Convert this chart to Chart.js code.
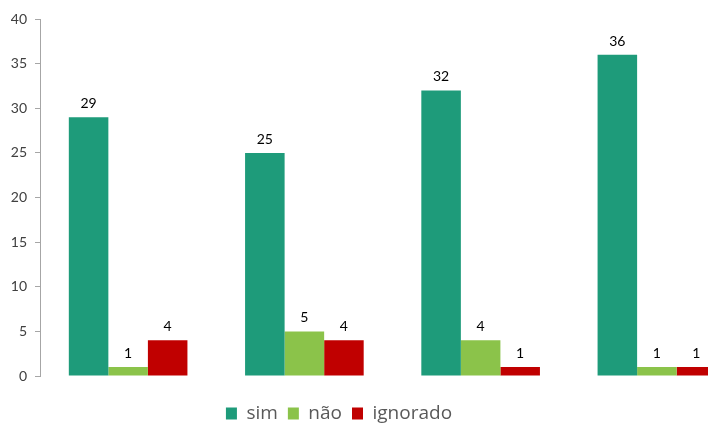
<!DOCTYPE html>
<html>
<head>
<meta charset="utf-8">
<script src="https://cdn.jsdelivr.net/npm/chart.js@4/dist/chart.umd.min.js"></script>
<style>
  html, body { margin: 0; padding: 0; background: #fff; overflow: hidden; }
  #wrap { position: relative; width: 708px; height: 429px; }
</style>
</head>
<body>
<div id="wrap"><canvas id="chart"></canvas></div>
<script>
// grupos (sem rótulo no eixo x)
const groups = [0, 1, 2, 3];
const seriesNames = ["sim", "não", "ignorado"];
const simValues = [29, 25, 32, 36];
const naoValues = [1, 5, 4, 1];
const ignoradoValues = [4, 4, 1, 1];
const yTicks = [0, 5, 10, 15, 20, 25, 30, 35, 40];

const colors = ["#1e9b7a", "#8bc34a", "#c00000"];

function toPoints(values) {
    return groups.map((g, i) => ({ x: g, y: values[i] }));
}

// rótulos de valor acima das barras
const valueLabels = {
    id: "valueLabels",
    afterDatasetsDraw(chart) {
        const ctx = chart.ctx;
        ctx.save();
        ctx.font = "14px Lato";
        ctx.fillStyle = "#000";
        ctx.textAlign = "center";
        ctx.textBaseline = "alphabetic";
        chart.data.datasets.forEach((ds, di) => {
            chart.getDatasetMeta(di).data.forEach((bar, i) => {
                ctx.fillText(ds.data[i].y, bar.x, bar.y - 9);
            });
        });
        ctx.restore();
    }
};

// legenda um pouco à esquerda e abaixo, como no original
const legendShift = {
    id: "legendShift",
    afterLayout(chart) {
        const lg = chart.legend;
        lg.left -= 15; lg.right -= 15;
        lg.top += 4; lg.bottom += 4;
    }
};

new Chart(document.getElementById("chart"), {
    type: "bar",
    data: {
        datasets: [
            { label: seriesNames[0], data: toPoints(simValues), backgroundColor: colors[0] },
            { label: seriesNames[1], data: toPoints(naoValues), backgroundColor: colors[1] },
            { label: seriesNames[2], data: toPoints(ignoradoValues), backgroundColor: colors[2] }
        ]
    },
    options: {
        responsive: true,
        maintainAspectRatio: false,
        animation: false,
        layout: { padding: { top: 19, right: 0, left: 0, bottom: 0 } },
        datasets: { bar: { categoryPercentage: 0.673, barPercentage: 1 } },
        scales: {
            x: {
                type: "linear",
                min: -0.5,
                max: 3.29,
                grid: { display: false },
                border: { display: false },
                ticks: { display: false },
                afterBuildTicks(scale) { scale.ticks = []; },
                afterFit(scale) { scale.height = 14; }
            },
            y: {
                min: 0,
                max: 40,
                afterBuildTicks(scale) { scale.ticks = yTicks.map(v => ({ value: v })); },
                afterFit(scale) { scale.width = 40; },
                grid: { drawOnChartArea: false, tickLength: 5, color: "#a6a6a6" },
                border: { color: "#a6a6a6" },
                ticks: { font: { family: "Lato", size: 14 }, color: "#404040", padding: 8 }
            }
        },
        plugins: {
            legend: {
                position: "bottom",
                labels: {
                    boxWidth: 11,
                    boxHeight: 12,
                    padding: 10,
                    font: { family: "Open Sans", size: 19 },
                    color: "#595959"
                }
            },
            tooltip: { enabled: false }
        }
    },
    plugins: [valueLabels, legendShift]
});
</script>
</body>
</html>
